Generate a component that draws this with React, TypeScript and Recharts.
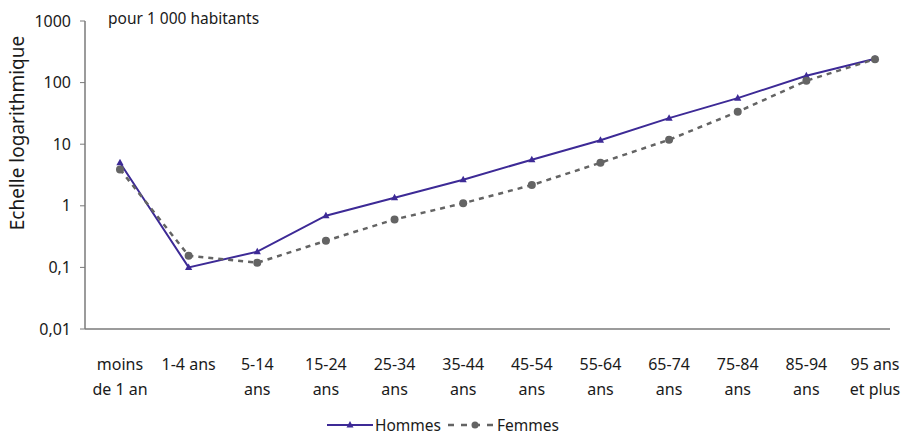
import React from "react";
import { LineChart, Line, XAxis, YAxis, Legend } from "recharts";

const categories = [
  "moins de 1 an", "1-4 ans", "5-14 ans", "15-24 ans", "25-34 ans", "35-44 ans",
  "45-54 ans", "55-64 ans", "65-74 ans", "75-84 ans", "85-94 ans", "95 ans et plus",
];
const tickLines: string[][] = [
  ["moins", "de 1 an"], ["1-4 ans"], ["5-14", "ans"], ["15-24", "ans"], ["25-34", "ans"],
  ["35-44", "ans"], ["45-54", "ans"], ["55-64", "ans"], ["65-74", "ans"], ["75-84", "ans"],
  ["85-94", "ans"], ["95 ans", "et plus"],
];
const hommes = [5.0, 0.1, 0.18, 0.69, 1.35, 2.65, 5.6, 11.6, 26.5, 56, 129, 244];
const femmes = [3.9, 0.155, 0.119, 0.27, 0.6, 1.1, 2.17, 5.0, 11.8, 33.6, 107, 240];
const yTicks = [0.01, 0.1, 1, 10, 100, 1000];

const data = categories.map((c, i) => ({ cat: c, Hommes: hommes[i], Femmes: femmes[i] }));

const FONT = "'Noto Sans', 'Open Sans', sans-serif";
const PURPLE = "#3d2a96";
const GREY = "#646464";
const AXIS = "#7a7a7a";
const TEXT = "#1a1a1a";

const fmt = (v: number) => String(v).replace(".", ",");

const Triangle = (props: any) => {
  const { cx, cy } = props;
  if (cx == null || cy == null) return null;
  return <path d={`M${cx},${cy - 4} L${cx + 3.6},${cy + 2.6} L${cx - 3.6},${cy + 2.6} Z`} fill={PURPLE} />;
};

const CatTick = (props: any) => {
  const { x, y, index } = props;
  const lines = tickLines[index] || [String(props.payload.value)];
  return (
    <g>
      {lines.map((l, k) => (
        <text key={k} x={x} y={y + 33 + k * 25} textAnchor="middle" fontSize={16} fontFamily={FONT} fill={TEXT}>
          {l}
        </text>
      ))}
    </g>
  );
};

const LegendContent = () => (
  <svg width={902} height={24}>
    <g fontFamily={FONT} fontSize={15.5} fill={TEXT}>
      <line x1={327} y1={12} x2={373} y2={12} stroke={PURPLE} strokeWidth={2} />
      <path d="M350,8 L353.5,14.5 L346.5,14.5 Z" fill={PURPLE} />
      <text x={375} y={17.5}>Hommes</text>
      <line x1={448} y1={12} x2={494} y2={12} stroke={GREY} strokeWidth={2.5} strokeDasharray="6 7" />
      <circle cx={475} cy={12} r={3.5} fill={GREY} />
      <text x={497} y={17.5}>Femmes</text>
    </g>
  </svg>
);

export default function App() {
  return (
    <div style={{ position: "absolute", left: 0, top: 0, width: 902, height: 436, overflow: "hidden", background: "#fff" }}>
      <LineChart width={902} height={436} data={data} margin={{ top: 21, right: 12, bottom: 47, left: 0 }}>
        <XAxis
          dataKey="cat"
          height={60}
          tick={<CatTick />}
          tickLine={false}
          axisLine={{ stroke: AXIS, strokeWidth: 1.5 }}
          interval={0}
          padding={{ left: 35, right: 15 }}
        />
        <YAxis
          scale="log"
          domain={[0.01, 1000]}
          ticks={yTicks}
          allowDataOverflow
          width={85}
          tickFormatter={fmt}
          tickSize={5}
          tickMargin={9}
          tick={{ fontSize: 16, fontFamily: FONT, fill: TEXT }}
          tickLine={{ stroke: AXIS }}
          axisLine={{ stroke: AXIS, strokeWidth: 1.5 }}
        />
        <Legend verticalAlign="middle" align="center" wrapperStyle={{ top: 413, left: 0, width: 902 }} content={<LegendContent />} />
        <Line
          type="linear"
          dataKey="Hommes"
          stroke={PURPLE}
          strokeWidth={2}
          dot={<Triangle />}
          activeDot={false}
          isAnimationActive={false}
        />
        <Line
          type="linear"
          dataKey="Femmes"
          stroke={GREY}
          strokeWidth={2.5}
          strokeDasharray="5 5"
          dot={{ r: 4, fill: GREY, stroke: GREY, strokeWidth: 0 }}
          activeDot={false}
          isAnimationActive={false}
        />
        <text x={108} y={24} fontSize={15.5} fontFamily={FONT} fill={TEXT}>pour 1 000 habitants</text>
        <text x={0} y={0} transform="translate(24,133) rotate(-90)" textAnchor="middle" fontSize={19} fontFamily={FONT} fill={TEXT}>
          Echelle logarithmique
        </text>
      </LineChart>
    </div>
  );
}
